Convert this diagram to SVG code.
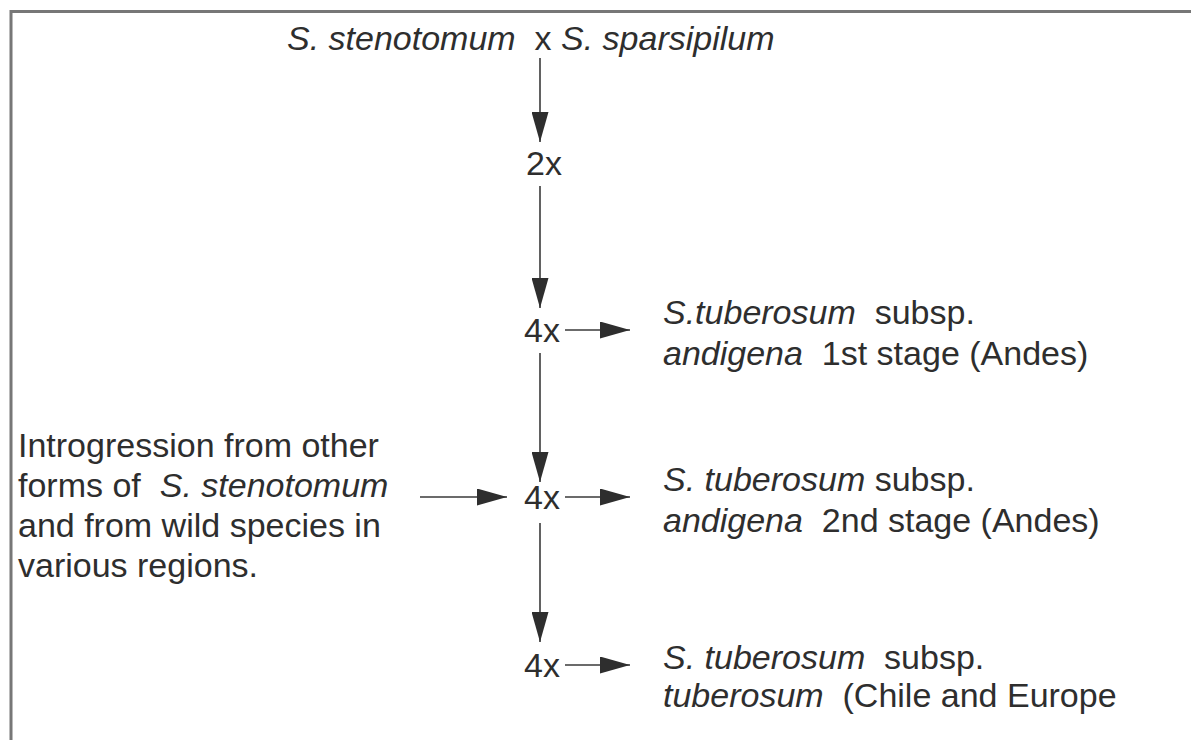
<svg xmlns="http://www.w3.org/2000/svg" width="1191" height="740" viewBox="0 0 1191 740">
  <defs>
    <marker id="head" viewBox="0 0 30 17" refX="30" refY="8.5" markerWidth="30" markerHeight="17" markerUnits="userSpaceOnUse" orient="auto">
      <path d="M0,0 L30,8.5 L0,17 Z" fill="#2e2e2e"/>
    </marker>
    <style>
      .t { font-family: "Liberation Sans", Arial, sans-serif; font-size: 34px; fill: #2e2e2e; white-space: pre; }
      .i { font-style: italic; }
      .frame { fill: none; stroke: #777; stroke-width: 3; }
      .link { stroke: #3a3a3a; stroke-width: 1.6; fill: none; marker-end: url(#head); }
    </style>
  </defs>

  <rect width="1191" height="740" fill="#ffffff"/>

  <!-- outer frame: top and left edges -->
  <path class="frame" d="M11,740 L11,11.5 L1191,11.5"/>

  <g id="connectors">
    <line class="link" x1="540" y1="58" x2="540" y2="142"/>
    <line class="link" x1="540" y1="186" x2="540" y2="308"/>
    <line class="link" x1="565" y1="330" x2="630" y2="330"/>
    <line class="link" x1="540" y1="353" x2="540" y2="482"/>
    <line class="link" x1="420" y1="497" x2="507" y2="497"/>
    <line class="link" x1="565" y1="497" x2="630" y2="497"/>
    <line class="link" x1="540" y1="523" x2="540" y2="642"/>
    <line class="link" x1="565" y1="665" x2="630" y2="665"/>
  </g>

  <g id="cross">
    <text class="t" x="287" y="50" xml:space="preserve"><tspan class="i">S. stenotomum</tspan>  x <tspan class="i">S. sparsipilum</tspan></text>
  </g>

  <g id="diploid">
    <text class="t" x="526" y="175">2x</text>
  </g>

  <g id="tetraploid-1">
    <text class="t" x="524" y="342">4x</text>
  </g>

  <g id="andigena-1">
    <text class="t" x="663" y="324" xml:space="preserve"><tspan class="i">S.tuberosum</tspan>  subsp.</text>
    <text class="t" x="663" y="365" xml:space="preserve"><tspan class="i">andigena</tspan>  1st stage (Andes)</text>
  </g>

  <g id="introgression">
    <text class="t" x="18" y="457">Introgression from other</text>
    <text class="t" x="18" y="497" xml:space="preserve">forms of  <tspan class="i">S. stenotomum</tspan></text>
    <text class="t" x="18" y="537">and from wild species in</text>
    <text class="t" x="18" y="577">various regions.</text>
  </g>

  <g id="tetraploid-2">
    <text class="t" x="524" y="509">4x</text>
  </g>

  <g id="andigena-2">
    <text class="t" x="663" y="491" xml:space="preserve"><tspan class="i">S. tuberosum</tspan> subsp.</text>
    <text class="t" x="663" y="532" xml:space="preserve"><tspan class="i">andigena</tspan>  2nd stage (Andes)</text>
  </g>

  <g id="tetraploid-3">
    <text class="t" x="524" y="677">4x</text>
  </g>

  <g id="tuberosum">
    <text class="t" x="663" y="669" xml:space="preserve"><tspan class="i">S. tuberosum</tspan>  subsp.</text>
    <text class="t" x="663" y="707" xml:space="preserve"><tspan class="i">tuberosum</tspan>  (Chile and Europe</text>
  </g>
</svg>
